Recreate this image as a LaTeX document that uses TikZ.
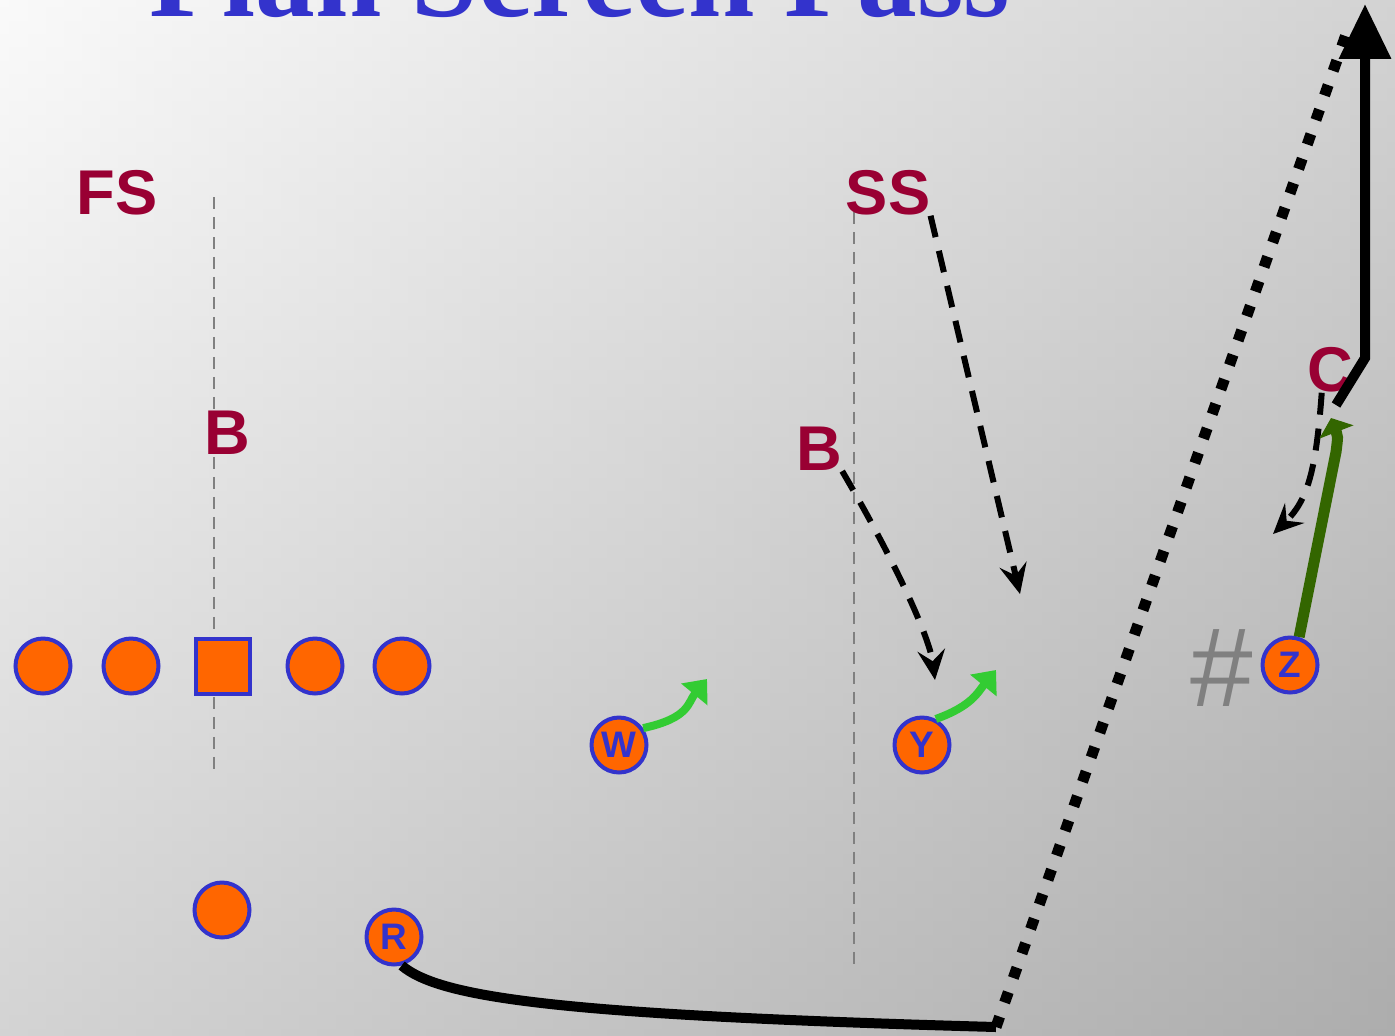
\documentclass[tikz,border=0pt]{standalone}
\usepackage{fontspec}
\setmainfont{Liberation Serif}
\newfontfamily\playfont{Liberation Sans}
\usetikzlibrary{arrows.meta}
\definecolor{TitleColor}{HTML}{3333CC}
\definecolor{PlayerFill}{HTML}{FF6600}
\definecolor{PlayerEdge}{HTML}{3333CC}
\definecolor{DefColor}{HTML}{990033}
\definecolor{RouteLight}{HTML}{33CC33}
\definecolor{RouteDark}{HTML}{336600}
\definecolor{MarkGray}{HTML}{808080}
\definecolor{BgLight}{HTML}{FAFAFA}
\definecolor{BgDark}{HTML}{ADADAD}
\tikzstyle{player}=[circle,
                    minimum size=1.1cm,
                    inner sep=0pt,
                    fill=PlayerFill,
                    draw=PlayerEdge,
                    line width=0.08cm,
                    text=PlayerEdge,
                    font=\playfont\bfseries\fontsize{21}{21}\selectfont, ]
\tikzstyle{center_player}=[rectangle,
                    minimum size=1.1cm,
                    inner sep=0pt,
                    fill=PlayerFill,
                    draw=PlayerEdge,
                    line width=0.08cm, ]
\tikzstyle{defender}=[inner sep=0pt,
                    text=DefColor,
                    font=\playfont\bfseries\fontsize{36}{36}\selectfont, ]
\tikzstyle{hash_line}=[MarkGray, line width=0.04cm, dash pattern=on 0.24cm off 0.16cm]
\tikzstyle{coverage}=[black, line width=0.12cm, dash pattern=on 0.44cm off 0.28cm,
                    -{Stealth[length=0.6cm,width=0.55cm,inset=0.22cm]}]
\tikzstyle{block_route}=[RouteLight, line width=0.16cm, -{Triangle[width=0.66cm,length=0.4cm]}]
\tikzstyle{release_route}=[RouteDark, line width=0.22cm, -{Triangle[width=0.72cm,length=0.3cm]}]
\tikzstyle{run_route}=[black, line width=0.2cm]
\tikzstyle{pass_route}=[black, line width=0.22cm, dash pattern=on 0.22cm off 0.3cm]

\begin{document}
\begin{tikzpicture}[x=0.02cm, y=-0.02cm]
    % ---------------------------------------------------------------------------------------------------------
    %  Veld
    \useasboundingbox (0,0) rectangle (1395,1035);
    \shade[top color=BgLight, bottom color=BgDark] (0,0) rectangle (1395,1035);
    \shade[left color=BgLight, right color=BgDark, opacity=0.5] (0,0) rectangle (1395,1035);
    \node at (580,16) (title) [anchor=base, text=TitleColor, font=\bfseries\fontsize{68}{68}\selectfont] {Plan Screen Pass};

    \draw[hash_line] (214,197) -- (214,772);
    \draw[hash_line] (854,212) -- (854,965);

    % ---------------------------------------------------------------------------------------------------------
    %  Verdediging
    \node at (117,193) (FS) [defender] {FS};
    \node at (888,193) (SS) [defender] {SS};
    \node at (227,433) (B1) [defender] {B};
    \node at (819,449) (B2) [defender] {B};
    \node at (1330,370) (C) [defender] {C};

    % ---------------------------------------------------------------------------------------------------------
    %  Aanval
    \foreach \lx [count=\li] in {43,131,315,402} {
        \node at (\lx,666) (OL\li) [player] {};
    }
    \node at (223,666) (OC) [center_player] {};
    \node at (222,910) (QB) [player] {};
    \node at (394,937) (R) [player] {R};
    \node at (619,745) (W) [player] {W};
    \node at (922,745) (Y) [player] {Y};
    \node at (1290,665) (Z) [player] {Z};
    \node at (1222,668) (hash) [inner sep=0pt, text=MarkGray, font=\playfont\fontsize{64}{64}\selectfont] {\#};

    \coordinate (SSdrop) at (1020,594);
    \coordinate (B2drop) at (935,680);
    \coordinate (Cdrop) at (1273,534);
    \coordinate (catch) at (996,1027);
    \coordinate (deep) at (1349,26);
    \coordinate (Cturn) at (1365,358);
    \coordinate (Cstart) at (1336,405);
    \coordinate (endzone) at (1365,4);

    % ---------------------------------------------------------------------------------------------------------
    %  Routes
    \draw[coverage] (SS.south east) -- (SSdrop);
    \draw[coverage] (B2.south east) .. controls (900,570) and (930,640) .. (B2drop);
    \draw[coverage] (C.-110) .. controls (1316,470) and (1308,500) .. (Cdrop);

    \draw[block_route] (W.35) .. controls (690,718) and (688,702) .. (707,679);
    \draw[block_route] (Y.62) .. controls (972,706) and (978,692) .. (996,670);
    \draw[release_route] (Z.72) -- (1336,452) .. controls (1338,436) .. (1331,418);

    \draw[run_route] (R.-75) .. controls (440,998) and (560,1015) .. (catch);
    \draw[pass_route] (catch) -- (deep);
    \draw[run_route, -{Triangle[width=1.0cm,length=1.1cm]}] (Cstart) -- (Cturn) -- (endzone);
\end{tikzpicture}
\end{document}
